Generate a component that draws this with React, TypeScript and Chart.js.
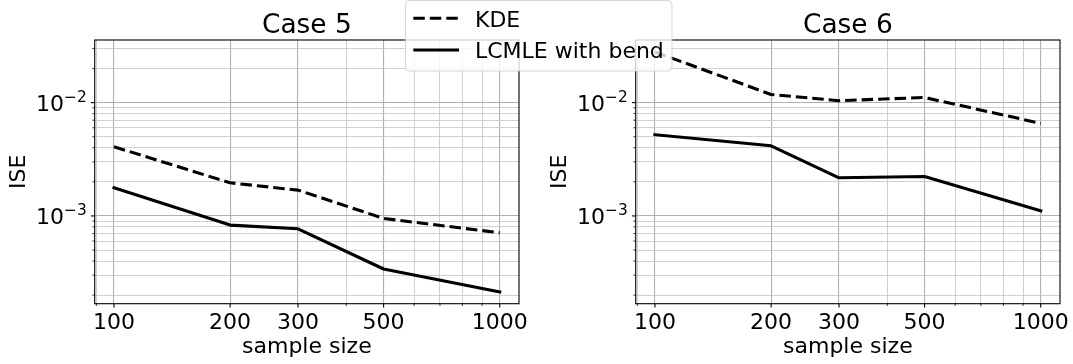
import React, { useEffect, useRef } from 'react';
import { Chart, registerables } from 'chart.js';

Chart.register(...registerables);

// ---------- data ----------
const sampleSizes = [100, 200, 300, 500, 1000];
const xTickLabels = ['100', '200', '300', '500', '1000'];
const xMinorTicks = [90, 400, 600, 700, 800, 900];
const yMajorExponents = [-4, -3, -2, -1];
const titles = ['Case 5', 'Case 6'];
const seriesNames = ['KDE', 'LCMLE with bend'];

const case5KDE = [0.00408, 0.00196, 0.00169, 0.00095, 0.00071];
const case5LCMLE = [0.00177, 0.00083, 0.00077, 0.00034, 0.000213];
const case6KDE = [0.028, 0.0118, 0.0104, 0.0111, 0.00656];
const case6LCMLE = [0.00521, 0.00416, 0.00217, 0.00223, 0.00111];

const X_MIN = 89.13;
const X_MAX = 1122;
const Y_MIN = 1.68e-4;
const Y_MAX = 0.0357;

const FONT = '"DejaVu Sans", sans-serif';
const LABEL_PX = 22;
const TITLE_PX = 26.4;

const xTickValues = [...sampleSizes, ...xMinorTicks].sort((a, b) => a - b);
const yMajorValues = yMajorExponents.map((e) => Math.pow(10, e));
const yTickValues: number[] = [];
for (const e of yMajorExponents) {
  for (let m = 1; m <= 9; m++) {
    const v = m * Math.pow(10, e);
    if (v >= Y_MIN && v <= Y_MAX) yTickValues.push(v);
  }
}
const isYMajor = (v: number) => yMajorValues.some((m) => Math.abs(m - v) / m < 1e-9);
const isXMajor = (v: number) => sampleSizes.includes(v);

function makeDecor(title: string) {
  return {
    id: 'decor',
    afterDraw(chart: any) {
      const { ctx, chartArea: a } = chart;
      const xs = chart.scales.x;
      const ys = chart.scales.y;
      ctx.save();
      ctx.strokeStyle = '#000';
      ctx.fillStyle = '#000';
      // frame
      ctx.lineWidth = 1.1;
      ctx.strokeRect(a.left, a.top, a.right - a.left, a.bottom - a.top);
      // x tick marks
      for (const v of xTickValues) {
        const px = xs.getPixelForValue(v);
        if (px < a.left - 0.5 || px > a.right + 0.5) continue;
        const major = isXMajor(v);
        ctx.lineWidth = major ? 1.1 : 0.8;
        ctx.beginPath();
        ctx.moveTo(px, a.bottom);
        ctx.lineTo(px, a.bottom + (major ? 3.8 : 2.3));
        ctx.stroke();
      }
      // y tick marks
      for (const v of yTickValues) {
        const py = ys.getPixelForValue(v);
        const major = isYMajor(v);
        ctx.lineWidth = major ? 1.1 : 0.8;
        ctx.beginPath();
        ctx.moveTo(a.left, py);
        ctx.lineTo(a.left - (major ? 3.8 : 2.3), py);
        ctx.stroke();
      }
      // x tick labels
      ctx.font = `${LABEL_PX}px ${FONT}`;
      ctx.textAlign = 'center';
      ctx.textBaseline = 'alphabetic';
      sampleSizes.forEach((v, i) => {
        ctx.fillText(xTickLabels[i], xs.getPixelForValue(v), a.bottom + 25.6);
      });
      // y tick labels (10^e)
      yMajorExponents.forEach((e) => {
        const v = Math.pow(10, e);
        if (v < Y_MIN || v > Y_MAX) return;
        const py = ys.getPixelForValue(v);
        const base = '10';
        const sup = '\u2212' + String(Math.abs(e));
        ctx.font = `${LABEL_PX}px ${FONT}`;
        const wb = ctx.measureText(base).width;
        ctx.font = `${LABEL_PX * 0.7}px ${FONT}`;
        const ws = ctx.measureText(sup).width;
        const right = a.left - 8;
        ctx.textAlign = 'left';
        ctx.font = `${LABEL_PX}px ${FONT}`;
        ctx.fillText(base, right - ws - wb, py + 8);
        ctx.font = `${LABEL_PX * 0.7}px ${FONT}`;
        ctx.fillText(sup, right - ws, py - 1);
      });
      // title
      const cx = (a.left + a.right) / 2;
      ctx.textAlign = 'center';
      ctx.font = `${TITLE_PX}px ${FONT}`;
      ctx.fillText(title, cx, 33.3);
      // x axis label
      ctx.font = `${LABEL_PX}px ${FONT}`;
      ctx.fillText('sample size', cx, 353.3);
      // y axis label
      ctx.save();
      ctx.translate(a.left - 70.2, (a.top + a.bottom) / 2);
      ctx.rotate(-Math.PI / 2);
      ctx.fillText('ISE', 0, 0);
      ctx.restore();
      ctx.restore();
    },
  };
}

function Panel({ idx, left, width, padRight, kde, lcmle }: any) {
  const ref = useRef<HTMLCanvasElement | null>(null);
  useEffect(() => {
    const canvas = ref.current!;
    const pts = (vals: number[]) => sampleSizes.map((s, i) => ({ x: s, y: vals[i] }));
    const gridColor = (major: boolean) => (major ? '#b0b0b0' : '#c4c4c4');
    const chart = new Chart(canvas, {
      type: 'line',
      data: {
        datasets: [
          {
            label: seriesNames[0],
            data: pts(kde),
            borderColor: '#000',
            borderWidth: 3.1,
            borderDash: [11.5, 5],
            borderCapStyle: 'butt',
            borderJoinStyle: 'round',
            pointRadius: 0,
            fill: false,
            tension: 0,
          },
          {
            label: seriesNames[1],
            data: pts(lcmle),
            borderColor: '#000',
            borderWidth: 3.1,
            borderCapStyle: 'square',
            borderJoinStyle: 'round',
            pointRadius: 0,
            fill: false,
            tension: 0,
          },
        ],
      },
      options: {
        animation: false,
        responsive: false,
        maintainAspectRatio: false,
        events: [],
        layout: { padding: { top: 40, right: padRight, bottom: 0, left: 0 } },
        plugins: { legend: { display: false }, tooltip: { enabled: false }, title: { display: false } },
        scales: {
          x: {
            type: 'logarithmic',
            min: X_MIN,
            max: X_MAX,
            bounds: 'data',
            afterBuildTicks: (s: any) => {
              s.ticks = xTickValues.map((v) => ({ value: v }));
            },
            afterFit: (s: any) => {
              s.height = 60.3;
            },
            ticks: { display: false },
            border: { display: false },
            grid: {
              drawTicks: false,
              color: (c: any) => gridColor(isXMajor(c.tick?.value)),
              lineWidth: (c: any) => (isXMajor(c.tick?.value) ? 1.1 : 0.8),
            },
          },
          y: {
            type: 'logarithmic',
            min: Y_MIN,
            max: Y_MAX,
            bounds: 'data',
            afterBuildTicks: (s: any) => {
              s.ticks = yTickValues.map((v) => ({ value: v }));
            },
            afterFit: (s: any) => {
              s.width = 94.7;
            },
            ticks: { display: false },
            border: { display: false },
            grid: {
              drawTicks: false,
              color: (c: any) => gridColor(isYMajor(c.tick?.value ?? 0)),
              lineWidth: (c: any) => (isYMajor(c.tick?.value ?? 0) ? 1.1 : 0.8),
            },
          },
        },
      } as any,
      plugins: [makeDecor(titles[idx])],
    });
    return () => chart.destroy();
  }, []);
  return (
    <canvas
      ref={ref}
      width={width}
      height={364}
      style={{ position: 'absolute', left, top: 0, width, height: 364 }}
    />
  );
}

export default function App() {
  return (
    <div style={{ position: 'fixed', left: 0, top: 0, width: 1073, height: 364, background: '#fff', overflow: 'hidden' }}>
      <Panel idx={0} left={0} width={541} padRight={22} kde={case5KDE} lcmle={case5LCMLE} />
      <Panel idx={1} left={541} width={532} padRight={13} kde={case6KDE} lcmle={case6LCMLE} />
      <svg
        width={1073}
        height={364}
        style={{ position: 'absolute', left: 0, top: 0, pointerEvents: 'none' }}
      >
        <rect x={405.5} y={0.5} width={266.5} height={70.5} rx={4} ry={4}
          fill="rgba(255,255,255,0.8)" stroke="rgba(204,204,204,0.8)" strokeWidth={1} />
        <line x1={413.3} y1={18.3} x2={459} y2={18.3} stroke="#000" strokeWidth={3.1} strokeDasharray="11.5 5" />
        <line x1={413.3} y1={50} x2={459} y2={50} stroke="#000" strokeWidth={3.1} />
        <text x={475} y={26.7} fontFamily="DejaVu Sans" fontSize={LABEL_PX} fill="#000">{seriesNames[0]}</text>
        <text x={475} y={58.3} fontFamily="DejaVu Sans" fontSize={LABEL_PX} fill="#000">{seriesNames[1]}</text>
      </svg>
    </div>
  );
}
